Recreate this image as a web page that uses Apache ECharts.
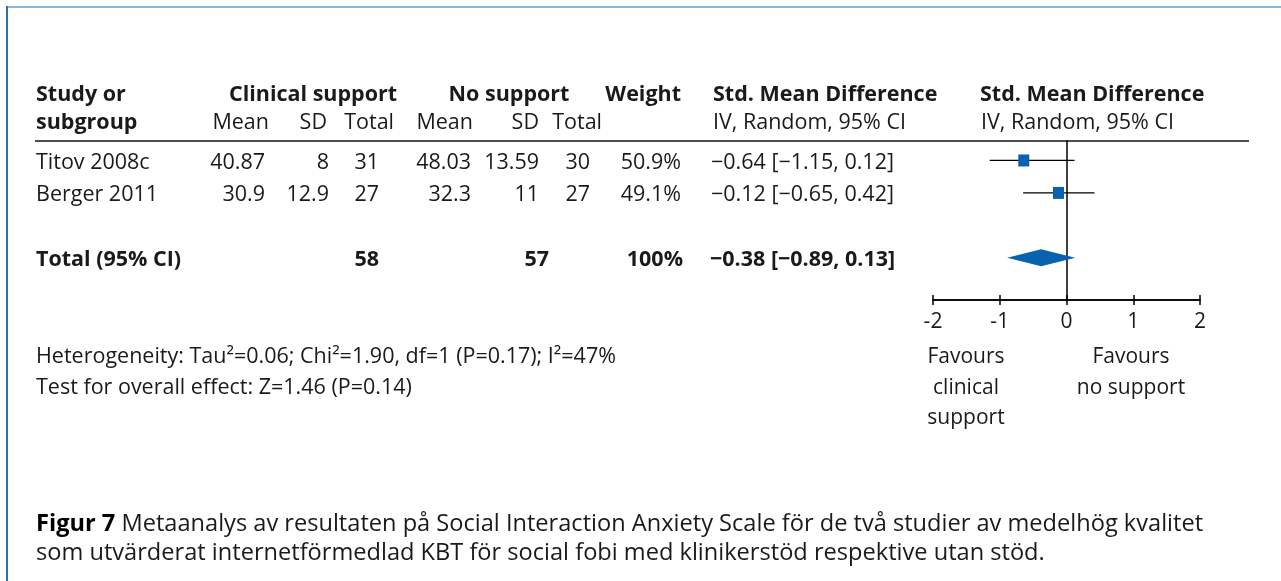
<!DOCTYPE html>
<html>
<head>
<meta charset="utf-8">
<script src="https://cdn.jsdelivr.net/npm/echarts@6/dist/echarts.min.js"></script>
<style>
  html, body { margin: 0; padding: 0; background: #fff; }
  #chart { width: 1281px; height: 581px; }
</style>
</head>
<body>
<div id="chart"></div>
<script>
// Study-level data
const studies   = ['Titov 2008c', 'Berger 2011'];
const csMean    = [40.87, 30.9];
const csSD      = [8, 12.9];
const csTotal   = [31, 27];
const nsMean    = [48.03, 32.3];
const nsSD      = [13.59, 11];
const nsTotal   = [30, 27];
const weights   = [50.9, 49.1];
const smd       = [-0.64, -0.12];
const ciLow     = [-1.15, -0.65];
const ciHigh    = [0.12, 0.42];

// Pooled estimate
const pooled    = [-0.38, -0.89, 0.13];   // estimate, lower, upper
const pooledWeight = 100;

// Effect axis ticks
const xTicks    = [-2, -1, 0, 1, 2];

const FONT = '"Open Sans", sans-serif';
const FS = 21.5;          // table and footnote text
const FS_CAPTION = 23.6;  // figure caption
const TEXT_DY = 2;        // optical centring of text rows
const INK = '#1a1a1a';
const BLUE = '#0862ad';

function fmt(v) { return (v < 0 ? '\u2212' : '') + Math.abs(v).toFixed(2); }
function ciLabel(e, lo, hi) { return fmt(e) + ' [' + fmt(lo) + ', ' + fmt(hi) + ']'; }
const sum = a => a.reduce((s, v) => s + v, 0);

// table rows sit at integer slots of the shared y axis
const rowSlot = studies.map((_, i) => i + 1);
const totalSlot = studies.length + 2;

const rowColumns = [
  { x: 36,  align: 'left',  get: i => studies[i] },
  { x: 265, align: 'right', get: i => String(csMean[i]) },
  { x: 329, align: 'right', get: i => String(csSD[i]) },
  { x: 379, align: 'right', get: i => String(csTotal[i]) },
  { x: 471, align: 'right', get: i => String(nsMean[i]) },
  { x: 539, align: 'right', get: i => String(nsSD[i]) },
  { x: 590, align: 'right', get: i => String(nsTotal[i]) },
  { x: 681, align: 'right', get: i => weights[i].toFixed(1) + '%' },
  { x: 711, align: 'left',  get: i => ciLabel(smd[i], ciLow[i], ciHigh[i]) }
];

const totalColumns = [
  { x: 36,  align: 'left',  text: 'Total (95% CI)' },
  { x: 379, align: 'right', text: String(sum(csTotal)) },
  { x: 549, align: 'right', text: String(sum(nsTotal)) },
  { x: 683, align: 'right', text: pooledWeight + '%' },
  { x: 710, align: 'left',  text: ciLabel(pooled[0], pooled[1], pooled[2]) }
];

function txt(x, y, text, align, bold, size) {
  return {
    type: 'text', x: x, y: y + TEXT_DY, silent: true,
    style: {
      text: text, align: align || 'left', verticalAlign: 'middle',
      fontFamily: FONT, fontSize: size || FS, fontWeight: bold ? 'bold' : 'normal', fill: INK
    }
  };
}

const chart = echarts.init(document.getElementById('chart'), null, { renderer: 'canvas' });

const gridRect = { left: 933, right: 81, top: 141, bottom: 281 };
const yRange = { min: 0.4, max: 5.3 };

const headerGraphics = [
  // frame
  { type: 'line', shape: { x1: 7, y1: 7, x2: 1281, y2: 7 }, style: { stroke: '#86b6df', lineWidth: 2 } },
  { type: 'line', shape: { x1: 7, y1: 6, x2: 7, y2: 581 }, style: { stroke: '#2f6fad', lineWidth: 2 } },
  // header rule
  { type: 'line', shape: { x1: 35, y1: 141, x2: 1249, y2: 141 }, style: { stroke: '#4d4d4d', lineWidth: 2 } },
  // header line 1
  txt(36, 93, 'Study or', 'left', true),
  txt(313, 93, 'Clinical support', 'center', true),
  txt(509, 93, 'No support', 'center', true),
  txt(681, 93, 'Weight', 'right', true),
  txt(713, 93, 'Std. Mean Difference', 'left', true),
  txt(980, 93, 'Std. Mean Difference', 'left', true),
  // header line 2
  txt(36, 121, 'subgroup', 'left', true),
  txt(269, 121, 'Mean', 'right'),
  txt(327, 121, 'SD', 'right'),
  txt(394, 121, 'Total', 'right'),
  txt(473, 121, 'Mean', 'right'),
  txt(539, 121, 'SD', 'right'),
  txt(602, 121, 'Total', 'right'),
  txt(713, 121, 'IV, Random, 95% CI', 'left'),
  txt(981, 121, 'IV, Random, 95% CI', 'left'),
  // footnotes
  txt(36, 355, 'Heterogeneity: Tau\u00b2=0.06; Chi\u00b2=1.90, df=1 (P=0.17); I\u00b2=47%', 'left'),
  txt(36, 386, 'Test for overall effect: Z=1.46 (P=0.14)', 'left'),
  // direction labels
  txt(966, 355, 'Favours', 'center', false, 21),
  txt(966, 386, 'clinical', 'center', false, 21),
  txt(966, 416, 'support', 'center', false, 21),
  txt(1131, 355, 'Favours', 'center', false, 21),
  txt(1131, 386, 'no support', 'center', false, 21),
  // caption
  {
    type: 'text', x: 36, y: 522 + TEXT_DY, silent: true,
    style: {
      text: '{b|Figur 7} Metaanalys av resultaten på Social Interaction Anxiety Scale för de två studier av medelhög kvalitet',
      verticalAlign: 'middle', fontFamily: FONT, fontSize: FS_CAPTION, fill: INK,
      rich: { b: { fontFamily: FONT, fontSize: FS_CAPTION, fontWeight: 'bold', fill: '#000' } }
    }
  },
  txt(36, 551, 'som utvärderat internetförmedlad KBT för social fobi med klinikerstöd respektive utan stöd.', 'left', false, FS_CAPTION)
];

const option = {
  animation: false,
  backgroundColor: '#ffffff',
  grid: [
    Object.assign({ containLabel: false }, gridRect),
    Object.assign({ containLabel: false }, gridRect)
  ],
  xAxis: [
    {
      gridIndex: 0, type: 'value', min: xTicks[0], max: xTicks[xTicks.length - 1], interval: 1,
      position: 'bottom',
      axisLine: { show: true, onZero: false, lineStyle: { color: '#000', width: 1.5 } },
      axisTick: { show: true, inside: true, length: 5, lineStyle: { color: '#000', width: 1.5 } },
      axisLabel: { show: false },
      splitLine: { show: false }
    },
    {
      gridIndex: 1, type: 'value', min: xTicks[0], max: xTicks[xTicks.length - 1], interval: 1,
      position: 'bottom',
      axisLine: { show: true, onZero: false, lineStyle: { color: '#000', width: 1.5 } },
      axisTick: { show: true, inside: false, length: 5, lineStyle: { color: '#000', width: 1.5 } },
      axisLabel: {
        show: true, margin: 12, color: INK, fontFamily: FONT, fontSize: 21,
        formatter: v => String(v)
      },
      splitLine: { show: false }
    }
  ],
  yAxis: [
    {
      gridIndex: 0, type: 'value', inverse: true, min: yRange.min, max: yRange.max,
      axisLine: { show: true, onZero: true, lineStyle: { color: '#000', width: 1.5 } },
      axisTick: { show: false }, axisLabel: { show: false }, splitLine: { show: false }
    },
    {
      gridIndex: 1, type: 'value', inverse: true, min: yRange.min, max: yRange.max, show: false
    }
  ],
  graphic: headerGraphics,
  series: [
    {
      // numeric table rows
      name: 'rows', type: 'custom', xAxisIndex: 0, yAxisIndex: 0, clip: false, silent: true,
      data: studies.map((_, i) => [i, rowSlot[i]]),
      renderItem: function (params, api) {
        const i = api.value(0);
        const y = api.coord([0, api.value(1)])[1];
        return {
          type: 'group',
          children: rowColumns.map(c => txt(c.x, y, c.get(i), c.align))
        };
      }
    },
    {
      // pooled row text
      name: 'total', type: 'custom', xAxisIndex: 0, yAxisIndex: 0, clip: false, silent: true,
      data: [[0, totalSlot]],
      renderItem: function (params, api) {
        const y = api.coord([0, api.value(1)])[1];
        return {
          type: 'group',
          children: totalColumns.map(c => txt(c.x, y, c.text, c.align, true))
        };
      }
    },
    {
      // study estimates: CI whisker and square
      name: 'studies', type: 'custom', xAxisIndex: 0, yAxisIndex: 0, clip: false,
      data: studies.map((_, i) => [smd[i], ciLow[i], ciHigh[i], rowSlot[i]]),
      renderItem: function (params, api) {
        const e = api.coord([api.value(0), api.value(3)]);
        const lo = api.coord([api.value(1), api.value(3)]);
        const hi = api.coord([api.value(2), api.value(3)]);
        const w = 11, h = 12;
        return {
          type: 'group',
          children: [
            { type: 'line', shape: { x1: lo[0], y1: lo[1], x2: hi[0], y2: hi[1] },
              style: { stroke: '#000', lineWidth: 1.2 } },
            { type: 'rect', shape: { x: e[0] - w / 2, y: e[1] - h / 2, width: w, height: h },
              style: { fill: BLUE } }
          ]
        };
      }
    },
    {
      // pooled diamond
      name: 'pooled', type: 'custom', xAxisIndex: 0, yAxisIndex: 0, clip: false,
      data: [[pooled[0], pooled[1], pooled[2], totalSlot]],
      renderItem: function (params, api) {
        const e = api.coord([api.value(0), api.value(3)]);
        const lo = api.coord([api.value(1), api.value(3)]);
        const hi = api.coord([api.value(2), api.value(3)]);
        const hh = 8.5;
        return {
          type: 'polygon',
          shape: { points: [[lo[0], lo[1]], [e[0], e[1] - hh], [hi[0], hi[1]], [e[0], e[1] + hh]] },
          style: { fill: BLUE }
        };
      }
    }
  ]
};

chart.setOption(option);
</script>
</body>
</html>
